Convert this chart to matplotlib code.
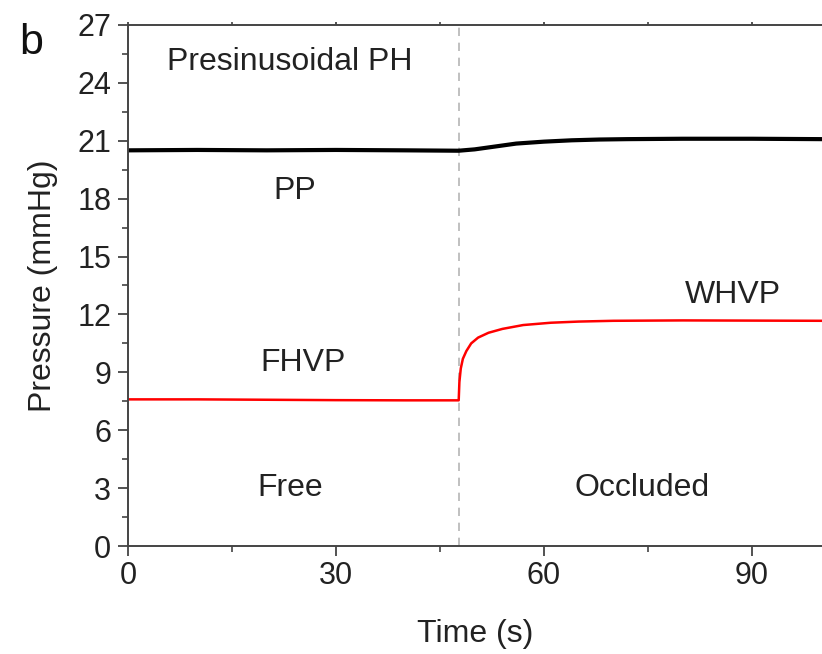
import matplotlib.pyplot as plt
from matplotlib.ticker import MultipleLocator

plt.rcParams['font.family'] = ['Liberation Sans', 'DejaVu Sans']

# portal pressure (black) and hepatic venous pressure (red)
pp_t = [0, 10, 20, 30, 40, 47.7, 50, 53, 56, 60, 64, 68, 72, 80, 90, 100]
pp_v = [20.5, 20.52, 20.5, 20.52, 20.5, 20.48, 20.55, 20.7, 20.85, 20.95,
        21.02, 21.06, 21.08, 21.1, 21.1, 21.08]

hvp_t = [0, 10, 20, 30, 40, 47.7, 47.8, 48.0, 48.3, 48.8, 49.5, 50.5, 52,
         54, 57, 61, 65, 70, 80, 90, 100]
hvp_v = [7.6, 7.6, 7.58, 7.56, 7.55, 7.55, 8.5, 9.2, 9.7, 10.1, 10.5, 10.8,
         11.05, 11.25, 11.45, 11.57, 11.63, 11.67, 11.69, 11.68, 11.67]

occlusion_t = 47.7

labels = ["Presinusoidal PH", "PP", "FHVP", "WHVP", "Free", "Occluded"]
label_x = [5.6, 24.1, 25.3, 87.3, 23.4, 74.2]
label_y = [25.05, 18.4, 9.5, 13.0, 3.0, 3.0]
label_ha = ["left", "center", "center", "center", "center", "center"]

fig = plt.figure(figsize=(8.22, 6.54), dpi=100)
ax = fig.add_axes([0.1557, 0.165, 0.8443, 0.797])

ax.axvline(occlusion_t, color='#b5b5b5', lw=1.2, ls=(0, (5, 4)))
ax.plot(pp_t, pp_v, color='black', lw=3.0)
ax.plot(hvp_t, hvp_v, color='#ff0000', lw=1.8)

for s, x, y, ha in zip(labels, label_x, label_y, label_ha):
    ax.text(x, y, s, ha=ha, va='center', fontsize=23, color='#222222')

ax.set_xlim(0, 100.1)
ax.set_ylim(0, 27)
ax.xaxis.set_major_locator(MultipleLocator(30))
ax.xaxis.set_minor_locator(MultipleLocator(15))
ax.yaxis.set_major_locator(MultipleLocator(3))
ax.yaxis.set_minor_locator(MultipleLocator(1.5))
ax.tick_params(which='major', direction='out', length=7, width=1.3,
               labelsize=22, colors='#444444', labelcolor='#222222', pad=4)
ax.tick_params(axis='y', which='major', pad=5)
ax.tick_params(which='minor', direction='out', length=4, width=1.2, colors='#444444')
ax.tick_params(axis='x', which='both', top=True)
ax.spines['right'].set_visible(False)
for side in ['left', 'bottom', 'top']:
    ax.spines[side].set_color('#444444')
    ax.spines[side].set_linewidth(1.4)
# the top axis only carries tiny stubs
for t in ax.xaxis.get_major_ticks() + ax.xaxis.get_minor_ticks():
    t.tick2line.set_markersize(2)

ax.set_xlabel("Time (s)", fontsize=23, color='#222222', labelpad=20)
ax.set_ylabel("Pressure (mmHg)", fontsize=23, color='#222222', labelpad=14)

fig.text(0.038, 0.935, "b", fontsize=31, ha='center', va='center', color='#111111')

fig.savefig("out.png", dpi=100)
